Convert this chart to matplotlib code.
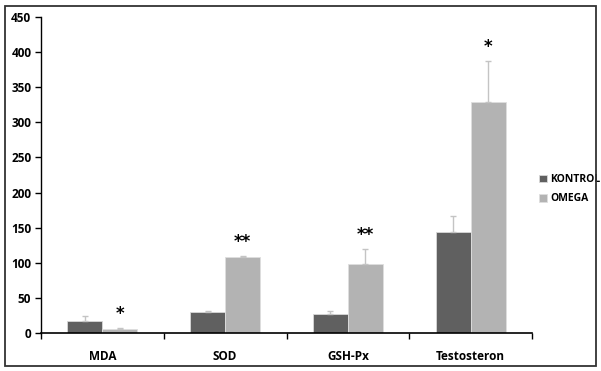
import numpy as np
import matplotlib
matplotlib.use("Agg")
import matplotlib.pyplot as plt
from matplotlib.patches import Rectangle

plt.rcParams['font.family'] = ['Open Sans', 'DejaVu Sans']

# data
categories = ["MDA", "SOD", "GSH-Px", "Testosteron"]
kontrol = [18, 30, 28, 144]
kontrol_err = [6, 2, 4, 23]
omega = [6, 108, 99, 329]
omega_err = [1.5, 2, 21, 58]
stars = ["*", "**", "**", "*"]

fig = plt.figure(figsize=(6.01, 3.71), dpi=100)
ax = fig.add_axes([41/601, (371-333.3)/371, 491/601, 316.6/371])

x = np.arange(len(categories))
w = 0.285
c_k = "#606060"
c_o = "#b3b3b3"
ekw = dict(ecolor="#c4c4c4", elinewidth=1, capsize=2, capthick=1)

ax.bar(x - w/2, kontrol, w, color=c_k, edgecolor="#d8d8d8", linewidth=0.6,
       yerr=[np.zeros(4), kontrol_err], error_kw=ekw, label="KONTROL")
ax.bar(x + w/2, omega, w, color=c_o, edgecolor="#dedede", linewidth=0.6,
       yerr=[np.zeros(4), omega_err], error_kw=ekw, label="OMEGA")

for xi, v, e, s in zip(x, omega, omega_err, stars):
    ax.annotate(s, (xi + w/2, v + e), xytext=(0, 10), textcoords="offset points",
                ha="center", va="center", fontsize=12, fontweight="bold",
                family="DejaVu Sans")

ax.set_xlim(-0.5, len(categories) - 0.5)
ax.set_ylim(0, 450)
ax.set_yticks(np.arange(0, 451, 50))
ax.set_xticks(np.arange(len(categories) + 1) - 0.5)
ax.set_xticklabels([])
ax.set_xticks(x, minor=True)
ax.set_xticklabels(categories, minor=True)
ax.tick_params(axis="x", which="major", direction="out", length=4, width=1)
ax.tick_params(axis="x", which="minor", length=0, pad=12, labelsize=8.5)
ax.tick_params(axis="y", direction="out", length=4, width=1, labelsize=8.5, pad=3)
for lab in ax.get_xticklabels(minor=True) + ax.get_yticklabels():
    lab.set_fontweight("bold")

for sp in ["top", "right"]:
    ax.spines[sp].set_visible(False)
ax.spines["left"].set_linewidth(1)
ax.spines["bottom"].set_linewidth(1.2)

leg = ax.legend(loc="center left", bbox_to_anchor=(1.0, 0.455), frameon=False,
                prop={"weight": "bold", "size": 7.5}, handlelength=0.75,
                handleheight=0.75, handletextpad=0.3, labelspacing=0.8,
                borderaxespad=0.3)

fig.patches.append(Rectangle((5/601, 5/371), 591/601, 360/371, transform=fig.transFigure,
                             fill=False, edgecolor="#333333", linewidth=1.3))

fig.savefig("out.png", dpi=100)
